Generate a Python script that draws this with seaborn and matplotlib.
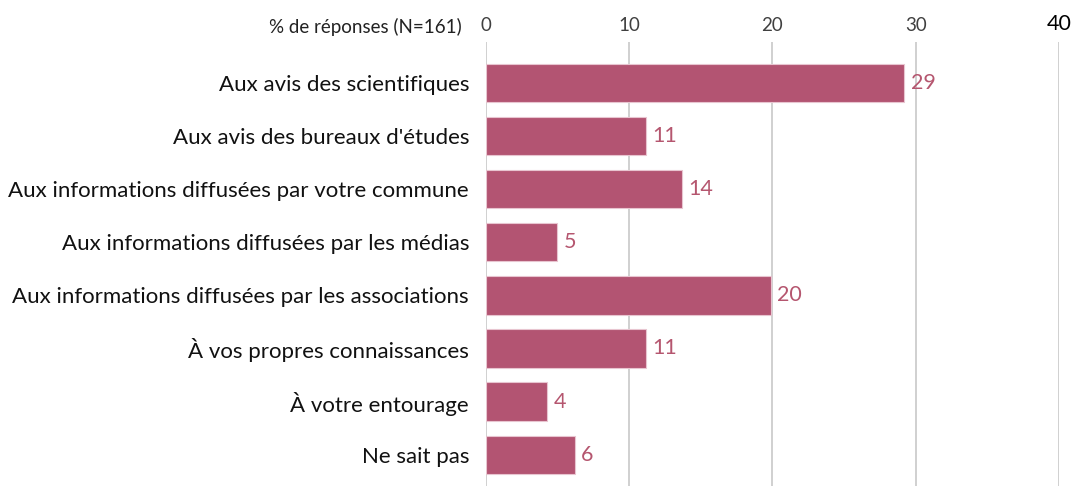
import pandas as pd
import matplotlib.pyplot as plt
import seaborn as sns

# données (% de réponses, N=161)
categories = [
    "Aux avis des scientifiques",
    "Aux avis des bureaux d'études",
    "Aux informations diffusées par votre commune",
    "Aux informations diffusées par les médias",
    "Aux informations diffusées par les associations",
    "À vos propres connaissances",
    "À votre entourage",
    "Ne sait pas",
]
values = [29.2, 11.2, 13.7, 5.0, 19.9, 11.2, 4.3, 6.2]
ticks = [0, 10, 20, 30, 40]

df = pd.DataFrame({"categorie": categories, "pct": values})

sns.set_theme(style="white")
plt.rcParams["font.family"] = ["Lato", "DejaVu Sans"]

bar_color = "#b35472"

fig = plt.figure(figsize=(10.76, 4.86), dpi=100)
ax = fig.add_axes([0.4514, 0.0, 0.5327, 0.9136])

sns.barplot(data=df, x="pct", y="categorie", color=bar_color, width=0.72,
            edgecolor="#e8c5d0", linewidth=0.8, saturation=1, ax=ax)

for i, v in enumerate(values):
    ax.text(v + 0.45, i, f"{v:.0f}", va="center", ha="left",
            fontsize=15.5, color="#b5566f")

ax.set_xlim(0, 40)
ax.set_ylim(7.59, -0.773)
ax.set_xticks(ticks)
ax.xaxis.tick_top()
ax.tick_params(axis="x", length=0, pad=6, labelsize=13.5, labelcolor="#404040")
ax.tick_params(axis="y", length=0, pad=12, labelsize=16, labelcolor="#111111")
ax.get_xticklabels()[-1].set_fontsize(15.5)
ax.get_xticklabels()[-1].set_color("black")
ax.grid(axis="x", color="#c8c8c8", linewidth=1.2)
ax.set_axisbelow(True)
for s in ax.spines.values():
    s.set_visible(False)
ax.set_xlabel("")
ax.set_ylabel("")

fig.text(462 / 1076, 1 - 27 / 486, "% de réponses (N=161)", ha="right",
         va="center", fontsize=13.5, color="#222222")

fig.savefig("out.png", dpi=100)
